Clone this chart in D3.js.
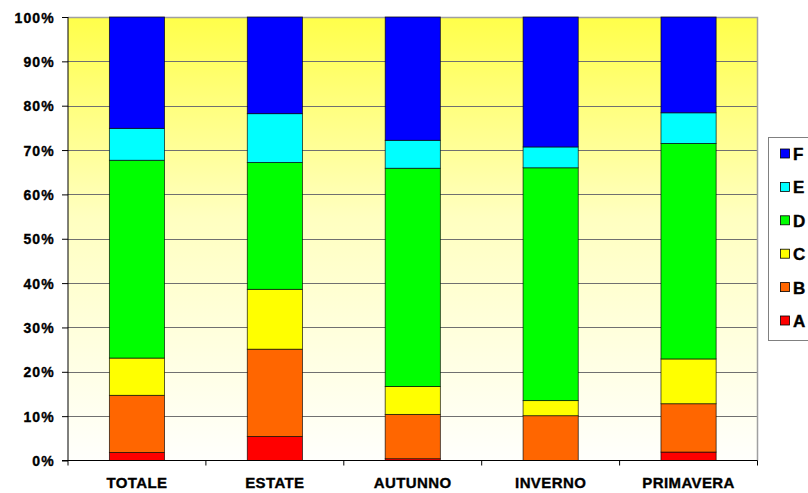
<!DOCTYPE html>
<html><head><meta charset="utf-8">
<script src="https://cdn.jsdelivr.net/npm/d3@7/dist/d3.min.js"></script>
<style>body{margin:0;background:#fff}svg{display:block}text{font-family:"Liberation Sans",Arial,sans-serif;font-weight:bold}</style>
</head><body><svg id="c" width="808" height="493"></svg>
<script>
const categories = ["TOTALE","ESTATE","AUTUNNO","INVERNO","PRIMAVERA"];
const seriesNames = ["A","B","C","D","E","F"];
const A = [1.8, 5.4, 0.4, 0.0, 1.9];
const B = [12.9, 19.7, 10.0, 10.1, 10.9];
const C = [8.4, 13.5, 6.3, 3.4, 10.1];
const D = [44.6, 28.6, 49.2, 52.5, 48.6];
const E = [7.2, 11.0, 6.3, 4.7, 6.9];
const F = [25.1, 21.8, 27.8, 29.3, 21.6];
const colors = {A:"#ff0000",B:"#ff6600",C:"#ffff00",D:"#00ff00",E:"#00ffff",F:"#0000ff"};
const yTicks = [0,10,20,30,40,50,60,70,80,90,100];

const seriesVals = {A,B,C,D,E,F};
const rows = categories.map((c,i)=>{const r={cat:c};let t=0;seriesNames.forEach(s=>{t+=seriesVals[s][i];});seriesNames.forEach(s=>r[s]=seriesVals[s][i]/t);return r;});
const stack = d3.stack().keys(seriesNames)(rows);

const svg = d3.select("#c");
const m = {l:68,t:17,r:757.5,b:460.5};
const x = d3.scaleBand().domain(categories).range([m.l,m.r]).paddingInner(0.6).paddingOuter(0.3);
const y = d3.scaleLinear().domain([0,1]).range([m.b,m.t]);

const defs = svg.append("defs");
const g = defs.append("linearGradient").attr("id","bg").attr("x1",0).attr("y1",0).attr("x2",0).attr("y2",1);
g.append("stop").attr("offset","0%").attr("stop-color","#ffff4a");
g.append("stop").attr("offset","45%").attr("stop-color","#ffffc0");
g.append("stop").attr("offset","100%").attr("stop-color","#fffffc");
svg.append("rect").attr("x",m.l).attr("y",m.t).attr("width",m.r-m.l).attr("height",m.b-m.t).attr("fill","url(#bg)");

// gridlines
svg.append("g").selectAll("line").data(yTicks.slice(1,-1)).join("line")
  .attr("x1",m.l).attr("x2",m.r).attr("y1",d=>Math.round(y(d/100))+0.5).attr("y2",d=>Math.round(y(d/100))+0.5)
  .attr("stroke","#707070").attr("stroke-width",1);
// top/right border
svg.append("path").attr("d",`M${m.l},${m.t+0.5}H${m.r}V${m.b}`).attr("fill","none").attr("stroke","#a0a0a0").attr("stroke-width",1.5);

// bars
svg.append("g").selectAll("g").data(stack).join("g").attr("fill",d=>colors[d.key])
  .selectAll("rect").data(d=>d).join("rect")
  .attr("x",(d,i)=>x(categories[i])).attr("width",x.bandwidth())
  .attr("y",d=>y(d[1])).attr("height",d=>y(d[0])-y(d[1]))
  .attr("stroke","#000").attr("stroke-width",0.8).attr("stroke-opacity",0.8);

// y axis
const ya = d3.axisLeft(y).tickValues(yTicks.map(v=>v/100)).tickFormat(d=>Math.round(d*100)+"%").tickSize(6).tickPadding(7);
const yg = svg.append("g").attr("transform",`translate(${m.l},0)`).call(ya);
yg.select(".domain").attr("stroke","#000").attr("d",`M0,${m.t}V${m.b}`);
yg.selectAll(".tick text").attr("font-size","14px").attr("letter-spacing","1.2px").attr("fill","#000")
  .attr("stroke","#000").attr("stroke-width",0.35)
  .attr("font-family","'Liberation Sans',Arial,sans-serif").attr("font-weight","bold").attr("dy","0.36em");
yg.selectAll(".tick line").attr("stroke","#000");

// x axis
svg.append("line").attr("x1",m.l-6).attr("x2",m.r).attr("y1",m.b).attr("y2",m.b).attr("stroke","#000");
const xb = d3.range(categories.length+1).map(i=>m.l+i*(m.r-m.l)/categories.length);
svg.append("g").selectAll("line").data(xb).join("line").attr("x1",d=>d).attr("x2",d=>d).attr("y1",m.b).attr("y2",m.b+5).attr("stroke","#000");
svg.append("g").selectAll("text").data(categories).join("text")
  .attr("x",d=>x(d)+x.bandwidth()/2).attr("y",488).attr("text-anchor","middle").attr("font-size","15px").attr("letter-spacing","0.4px")
  .attr("fill","#000").attr("stroke","#000").attr("stroke-width",0.35).text(d=>d);

// legend
svg.append("rect").attr("x",768.5).attr("y",137.5).attr("width",50).attr("height",203).attr("fill","#fff").attr("stroke","#808080");
const leg = svg.append("g").selectAll("g").data(seriesNames.slice().reverse()).join("g")
  .attr("transform",(d,i)=>`translate(780,${153.5+i*33.4})`);
leg.append("rect").attr("x",0.5).attr("y",-4.5).attr("width",9).attr("height",9).attr("fill",d=>colors[d]).attr("stroke","#000").attr("stroke-width",0.8);
leg.append("text").attr("x",13).attr("y",6.5).attr("font-size","17px").attr("fill","#000").attr("stroke","#000").attr("stroke-width",0.4).text(d=>d);
</script></body></html>
